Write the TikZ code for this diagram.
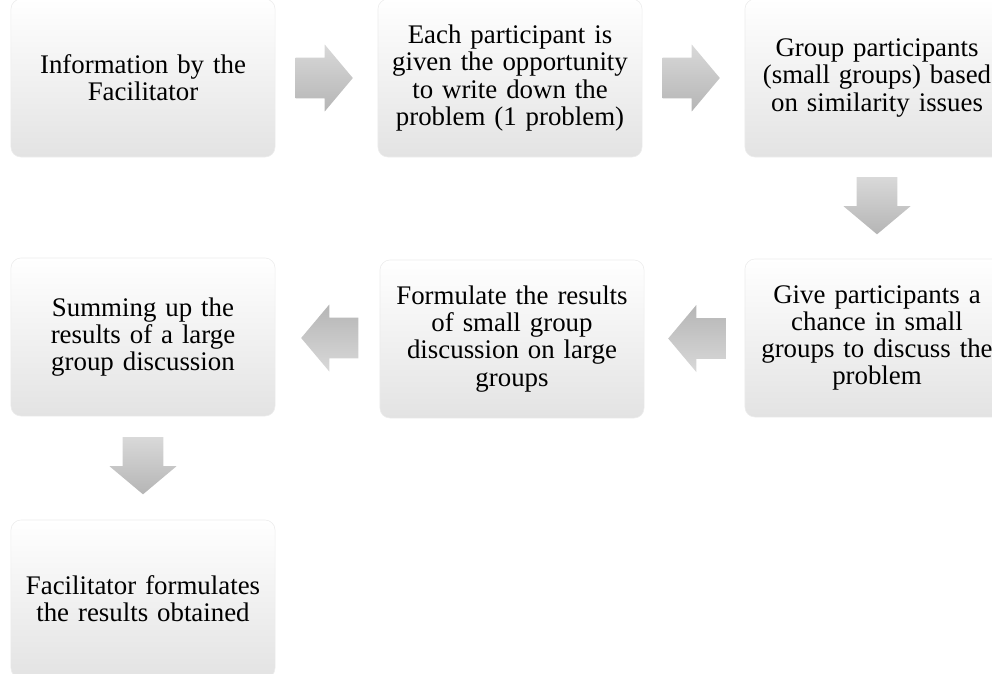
\documentclass[tikz,border=0pt]{standalone}
\usepackage{fontspec}
\setmainfont{Liberation Serif}
\usetikzlibrary{shapes,arrows,positioning,calc}

\begin{document}
\begin{tikzpicture}[x=0.025cm, y=-0.025cm,
    stepbox/.style={rectangle, rounded corners=0.25cm, draw=gray!15, top color=white, middle color=white, bottom color=gray!22, minimum width=6.6cm, minimum height=3.95cm, text width=6.3cm, align=center, inner sep=0pt, font=\fontsize{19.1}{19.3}\selectfont},
    flow/.style={single arrow, draw=none, top color=gray!30, bottom color=gray!58, minimum height=1.43cm, inner xsep=0pt, inner ysep=0.5cm, single arrow head extend=0.33cm, single arrow tip angle=100, rotate=#1, xshift=-0.27cm},
    flow/.default=0,
    flowback/.style={flow=180, top color=gray!58, bottom color=gray!30},
    flowdown/.style={flow=-90}]
    \useasboundingbox (0,0) rectangle (992,673);

    % Top row
    \node[stepbox] (info) at (143,78) {Information by the\\Facilitator};
    \node[stepbox] (write) at (510,78) {Each participant is\\given the opportunity\\to write down the\\problem (1 problem)};
    \node[stepbox] (group) at (877,78) {Group participants\\(small groups) based\\on similarity issues};

    % Middle row
    \node[stepbox] (chance) at (877,338) {Give participants a\\chance in small\\groups to discuss the\\problem};
    \node[stepbox] (formulate) at (512,339) {Formulate the results\\of small group\\discussion on large\\groups};
    \node[stepbox] (summing) at (143,337) {Summing up the\\results of a large\\group discussion};

    % Bottom row
    \node[stepbox] (final) at (143,599) {Facilitator formulates\\the results obtained};

    % Block arrows between the steps
    \node[flow] (a1) at ($(info.east)!0.5!(write.west)$) {};
    \node[flow] (a2) at ($(write.east)!0.5!(group.west)$) {};
    \node[flowdown] (a3) at ($(group.south)!0.5!(chance.north)$) {};
    \node[flowback] (a4) at ($(chance.west)!0.5!(formulate.east)$) {};
    \node[flowback] (a5) at ($(formulate.west)!0.5!(summing.east)$) {};
    \node[flowdown] (a6) at ($(summing.south)!0.5!(final.north)$) {};
\end{tikzpicture}
\end{document}
